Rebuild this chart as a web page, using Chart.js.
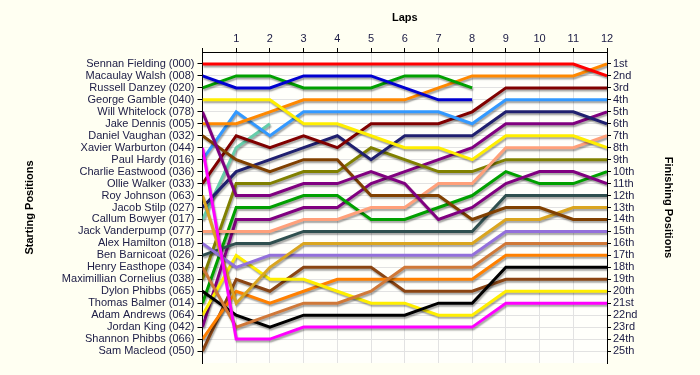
<!DOCTYPE html>
<html>
<head>
<meta charset="utf-8">
<script src="https://cdn.jsdelivr.net/npm/chart.js@4.4.1/dist/chart.umd.min.js"></script>
<style>
  html, body { margin: 0; padding: 0; background: #fffff2; }
  #wrap { width: 700px; height: 375px; }
</style>
</head>
<body>
<div id="wrap"><canvas id="lapChart" width="700" height="375"></canvas></div>
<script>
// Pilotos na ordem de largada (posição 1 a 25)
const drivers = [
    "Sennan Fielding (000)", "Macaulay Walsh (008)", "Russell Danzey (020)", "George Gamble (040)",
    "Will Whitelock (078)", "Jake Dennis (005)", "Daniel Vaughan (032)", "Xavier Warburton (044)",
    "Paul Hardy (016)", "Charlie Eastwood (036)", "Ollie Walker (033)", "Roy Johnson (063)",
    "Jacob Stilp (027)", "Callum Bowyer (017)", "Jack Vanderpump (077)", "Alex Hamilton (018)",
    "Ben Barnicoat (026)", "Henry Easthope (034)", "Maximillian Cornelius (038)", "Dylon Phibbs (065)",
    "Thomas Balmer (014)", "Adam Andrews (064)", "Jordan King (042)", "Shannon Phibbs (066)",
    "Sam Macleod (050)"
];

const driverColors = [
    "#ff0000", "#0000d0", "#00a000", "#ffee00", "#800080", "#ff8800", "#804000", "#ff00ff",
    "#3399ff", "#808080", "#800000", "#daa520", "#202070", "#66cdaa", "#ffa07a", "#9370db",
    "#2f4f4f", "#d07838", "#808000", "#000000", "#00a000", "#ffee00", "#800080", "#ff8000",
    "#8b4513"
];

const lapNumbers = [1, 2, 3, 4, 5, 6, 7, 8, 9, 10, 11, 12];

const finishLabels = [
    "1st", "2nd", "3rd", "4th", "5th", "6th", "7th", "8th", "9th", "10th", "11th", "12th", "13th",
    "14th", "15th", "16th", "17th", "18th", "19th", "20th", "21st", "22nd", "23rd", "24th", "25th"
];

// Posição em cada volta (volta 0 = largada); null = abandonou
const positions = [
    [1, 1, 1, 1, 1, 1, 1, 1, 1, 1, 1, 1, 2],             // Sennan Fielding
    [2, 3, 3, 2, 2, 2, 3, 4, 4],                         // Macaulay Walsh
    [3, 2, 2, 3, 3, 3, 2, 2, 3],                         // Russell Danzey
    [4, 4, 4, 6, 6, 7, 8, 8, 9, 7, 7, 7, 8],             // George Gamble
    [5, 12, 12, 11, 11, 10, 11, 14, 13, 11, 10, 10, 11], // Will Whitelock
    [6, 6, 5, 4, 4, 4, 4, 3, 2, 2, 2, 2, 1],             // Jake Dennis
    [7, 9, 10, 9, 9, 12, 12, 12, 14, 13, 13, 14, 14],    // Daniel Vaughan
    [8, 24, 24, 23, 23, 23, 23, 23, 23, 21, 21, 21, 21], // Xavier Warburton
    [9, 5, 7, 5, 5, 5, 5, 5, 6, 4, 4, 4, 4],             // Paul Hardy
    [10],                                                // Charlie Eastwood
    [11, 7, 8, 7, 8, 6, 6, 6, 5, 3, 3, 3, 3],            // Ollie Walker
    [12, 21, 18, 16, 16, 16, 16, 16, 16, 14, 14, 13, 13],// Roy Johnson
    [13, 10, 9, 8, 7, 9, 7, 7, 7, 5, 5, 5, 6],           // Jacob Stilp
    [14, 8, 6],                                          // Callum Bowyer
    [15, 15, 15, 14, 14, 13, 13, 11, 11, 8, 8, 8, 7],    // Jack Vanderpump
    [16, 18, 17, 17, 17, 17, 17, 17, 17, 15, 15, 15, 15],// Alex Hamilton
    [17, 16, 16, 15, 15, 15, 15, 15, 15, 12, 12, 12, 12],// Ben Barnicoat
    [18, 23, 22, 21, 21, 20, 18, 18, 18, 16, 16, 16, 16],// Henry Easthope
    [19, 11, 11, 10, 10, 8, 9, 10, 10, 9, 9, 9, 9],      // Maximillian Cornelius
    [20, 22, 23, 22, 22, 22, 22, 21, 21, 18, 18, 18, 18],// Dylon Phibbs
    [21, 13, 13, 12, 12, 14, 14, 13, 12, 10, 11, 11, 10],// Thomas Balmer
    [22, 17, 19, 19, 20, 21, 21, 22, 22, 20, 20, 20, 20],// Adam Andrews
    [23, 14, 14, 13, 13, 11, 10, 9, 8, 6, 6, 6, 5],      // Jordan King
    [24, 20, 21, 20, 19, 19, 19, 19, 19, 17, 17, 17, 17],// Shannon Phibbs
    [25, 19, 20, 18, 18, 18, 20, 20, 20, 19, 19, 19, 19] // Sam Macleod
];

// Fundo do gráfico e da área de plotagem
const fundoPlugin = {
    id: 'fundo',
    beforeDraw(chart) {
        const { ctx, chartArea: a } = chart;
        ctx.save();
        ctx.fillStyle = '#fffff2';
        ctx.fillRect(0, 0, chart.width, chart.height);
        ctx.fillStyle = '#fffffb';
        ctx.fillRect(a.left, a.top, a.right - a.left, a.bottom - a.top);
        ctx.restore();
    }
};

// Sombra leve embaixo das linhas (igual ao original)
const sombraPlugin = {
    id: 'sombra',
    beforeDatasetsDraw(chart) {
        const ctx = chart.ctx;
        ctx.save();
        ctx.shadowColor = 'rgba(0,0,0,0.35)';
        ctx.shadowBlur = 1.5;
        ctx.shadowOffsetX = 1;
        ctx.shadowOffsetY = 2;
    },
    afterDatasetsDraw(chart) {
        chart.ctx.restore();
    }
};

const rowTicks = (scale) => { scale.ticks = finishLabels.map((_, i) => ({ value: i + 1 })); };
const textColor = '#202048';
const fonte = { family: 'Liberation Sans, Arial, sans-serif', size: 11 };
const fonteTitulo = { family: 'Liberation Sans, Arial, sans-serif', size: 11, weight: 'bold' };

const datasets = positions.map((linha, i) => ({
    label: drivers[i],
    data: linha.map((p, lap) => ({ x: lap, y: p })).filter(pt => pt.y != null),
    borderColor: driverColors[i],
    backgroundColor: driverColors[i],
    borderWidth: 3,
    pointRadius: 0,
    tension: 0,
    fill: false,
    yAxisID: 'y'
}));

new Chart(document.getElementById('lapChart'), {
    type: 'line',
    data: { datasets },
    options: {
        responsive: false,
        animation: false,
        layout: { padding: { left: 0, right: 0, top: 0, bottom: 12 } },
        plugins: { legend: { display: false }, tooltip: { enabled: false } },
        scales: {
            x: {
                type: 'linear',
                position: 'top',
                min: 0,
                max: 12,
                afterBuildTicks: (s) => { s.ticks = [0].concat(lapNumbers).map(v => ({ value: v })); },
                afterFit: (s) => { s.height = 52; },
                ticks: {
                    color: textColor, font: fonte, padding: 2, maxRotation: 0,
                    callback: (v) => lapNumbers.includes(v) ? String(v) : ''
                },
                grid: { color: '#e2e2e2', tickColor: '#000', tickLength: 4 },
                border: { color: '#000', width: 1 },
                title: { display: true, text: 'Laps', color: '#000', font: fonteTitulo, padding: { top: 11, bottom: 0 } }
            },
            y: {
                type: 'linear',
                position: 'left',
                reverse: true,
                min: 0,
                max: 26,
                afterBuildTicks: rowTicks,
                afterFit: (s) => { s.width = 202.5; },
                ticks: {
                    color: textColor, font: fonte, padding: 3, autoSkip: false,
                    callback: (v) => drivers[v - 1] || ''
                },
                grid: { color: '#e2e2e2', tickColor: '#000', tickLength: 5 },
                border: { color: '#000', width: 1 },
                title: { display: true, text: 'Starting Positions', color: '#000', font: fonteTitulo, padding: { top: 23, bottom: 0 } }
            },
            y2: {
                type: 'linear',
                position: 'right',
                reverse: true,
                min: 0,
                max: 26,
                afterBuildTicks: rowTicks,
                afterFit: (s) => { s.width = 93; },
                ticks: {
                    color: textColor, font: fonte, padding: 2, autoSkip: false,
                    callback: (v) => finishLabels[v - 1] || ''
                },
                grid: { drawOnChartArea: false, tickColor: '#000', tickLength: 4 },
                border: { color: '#000', width: 1 },
                title: { display: true, text: 'Finishing Positions', color: '#000', font: fonteTitulo, padding: { top: 25, bottom: 0 } }
            }
        }
    },
    plugins: [fundoPlugin, sombraPlugin]
});
</script>
</body>
</html>
